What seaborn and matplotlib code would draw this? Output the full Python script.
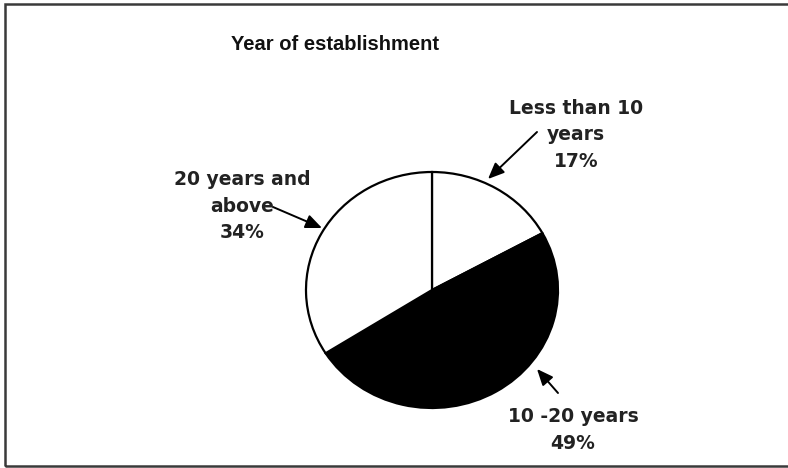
import matplotlib
matplotlib.use("Agg")
import matplotlib.pyplot as plt
import seaborn as sns
from matplotlib.patches import Rectangle, FancyArrowPatch

sns.set_style("white")
plt.rcParams['font.family'] = ['Liberation Sans', 'DejaVu Sans']

title = "Year of establishment"
categories = ["Less than 10\nyears", "10 -20 years", "20 years and\nabove"]
shares = [17, 49, 34]
fills = ["white", "black", "white"]

W, H = 788, 468
fig = plt.figure(figsize=(W / 100, H / 100), dpi=100)
fig.patch.set_facecolor("white")

# frame around the chart
fig.patches.append(Rectangle((5 / W, 2 / H), 1.2, 462 / H,
                             transform=fig.transFigure, fill=False,
                             edgecolor="#3a3a3a", linewidth=1.8))

# pie axes (slightly elliptical like the scan)
cx, cy, rx, ry = 432, 290, 126, 118
pad = 1.1
ax = fig.add_axes([(cx - rx * pad) / W, (H - cy - ry * pad) / H,
                   2 * rx * pad / W, 2 * ry * pad / H])
ax.pie(shares, colors=fills, startangle=90, counterclock=False,
       wedgeprops=dict(edgecolor="black", linewidth=1.6))
ax.set_aspect("auto")
ax.set_xlim(-pad, pad)
ax.set_ylim(-pad, pad)
ax.axis("off")


def fx(x):
    return x / W


def fy(y):
    return 1 - y / H


fig.text(fx(335), fy(45), title, ha="center", va="center",
         fontsize=14.5, fontweight="bold", color="#111111")

lbl_kw = dict(fontsize=13.5, fontweight="bold", color="#222222",
              linespacing=1.5, family=["DejaVu Sans"], ha="center",
              va="center", multialignment="center")
fig.text(fx(576), fy(135), f"{categories[0]}\n{shares[0]}%", **lbl_kw)
fig.text(fx(242), fy(206), f"{categories[2]}\n{shares[2]}%", **lbl_kw)
fig.text(fx(573), fy(430), f"{categories[1]}\n{shares[1]}%", **lbl_kw)

arrow = dict(arrowstyle="-|>,head_length=0.7,head_width=0.3", color="black",
             lw=1.4, shrinkA=0, shrinkB=0, mutation_scale=14)
ann = [((537, 132), (488, 179)), ((273, 207), (322, 228)), ((558, 393), (537, 369))]
for (tx, ty), (hx, hy) in ann:
    fig.add_artist(FancyArrowPatch((fx(tx), fy(ty)), (fx(hx), fy(hy)),
                                   transform=fig.transFigure, **arrow))

fig.savefig("out.png", dpi=100, facecolor=fig.get_facecolor())
